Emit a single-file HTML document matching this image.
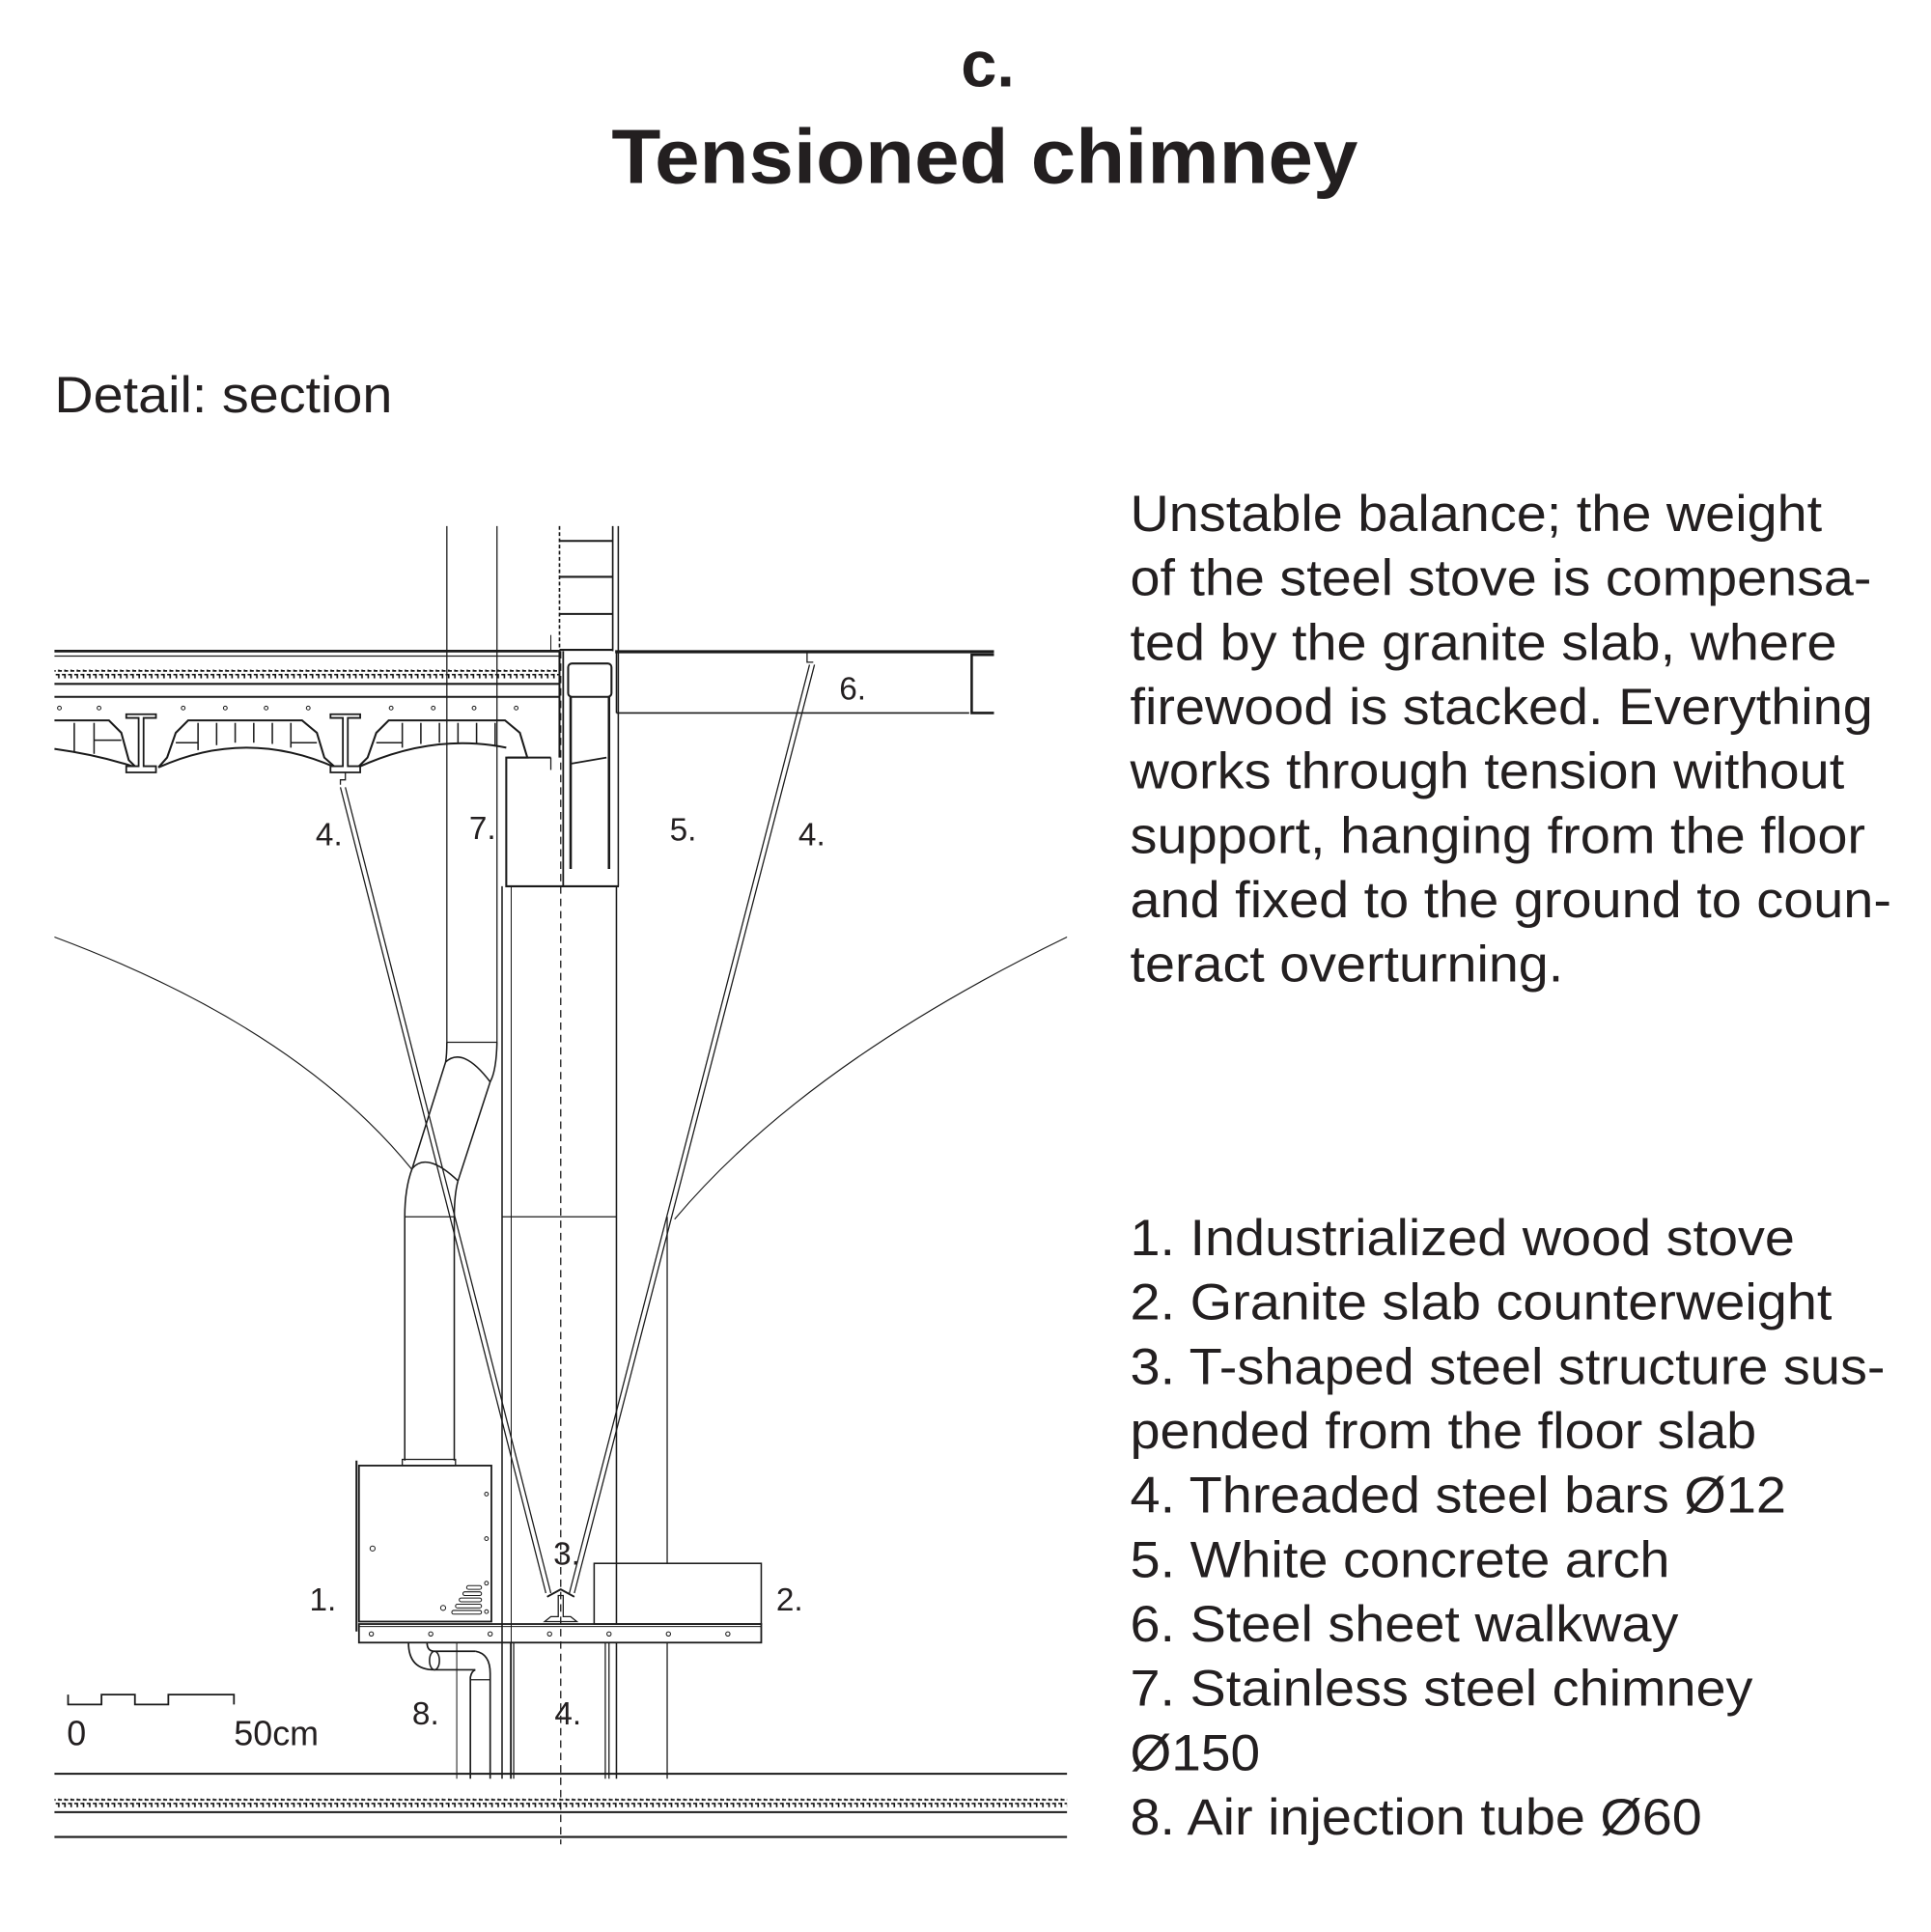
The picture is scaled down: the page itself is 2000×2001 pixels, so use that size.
<!DOCTYPE html>
<html><head><meta charset="utf-8"><style>
html,body{margin:0;padding:0;background:#fff;}
svg{display:block;}
text{font-family:"Liberation Sans",Arial,sans-serif;fill:#231f20;}
</style></head><body>
<svg width="2000" height="2001" viewBox="0 0 1560 1560.8" preserveAspectRatio="none" xmlns="http://www.w3.org/2000/svg">
<defs>
<pattern id="sq" x="0" y="0" width="5" height="8" patternUnits="userSpaceOnUse">
<path d="M0 1 H2.5 V6 H5" fill="none" stroke="#111" stroke-width="1.3"/>
</pattern>
</defs>
<rect width="1560" height="1561" fill="#fff"/>
<text x="798" y="70" font-size="52" font-weight="bold" text-anchor="middle">c.</text>
<text x="494" y="148" font-size="62" font-weight="bold" textLength="603" lengthAdjust="spacingAndGlyphs">Tensioned chimney</text>
<text x="44" y="333" font-size="41" textLength="273" lengthAdjust="spacingAndGlyphs">Detail: section</text>

<g font-size="41">
<text x="913" y="429" textLength="559" lengthAdjust="spacingAndGlyphs">Unstable balance; the weight</text>
<text x="913" y="481" textLength="599" lengthAdjust="spacingAndGlyphs">of the steel stove is compensa-</text>
<text x="913" y="533" textLength="571" lengthAdjust="spacingAndGlyphs">ted by the granite slab, where</text>
<text x="913" y="585" textLength="600" lengthAdjust="spacingAndGlyphs">firewood is stacked. Everything</text>
<text x="913" y="637" textLength="577" lengthAdjust="spacingAndGlyphs">works through tension without</text>
<text x="913" y="689" textLength="594" lengthAdjust="spacingAndGlyphs">support, hanging from the floor</text>
<text x="913" y="741" textLength="615" lengthAdjust="spacingAndGlyphs">and fixed to the ground to coun-</text>
<text x="913" y="793" textLength="350" lengthAdjust="spacingAndGlyphs">teract overturning.</text>

<text x="913" y="1014" textLength="537" lengthAdjust="spacingAndGlyphs">1. Industrialized wood stove</text>
<text x="913" y="1066" textLength="567" lengthAdjust="spacingAndGlyphs">2. Granite slab counterweight</text>
<text x="913" y="1118" textLength="610" lengthAdjust="spacingAndGlyphs">3. T-shaped steel structure sus-</text>
<text x="913" y="1170" textLength="506" lengthAdjust="spacingAndGlyphs">pended from the floor slab</text>
<text x="913" y="1222" textLength="530" lengthAdjust="spacingAndGlyphs">4. Threaded steel bars Ø12</text>
<text x="913" y="1274" textLength="436" lengthAdjust="spacingAndGlyphs">5. White concrete arch</text>
<text x="913" y="1326" textLength="443" lengthAdjust="spacingAndGlyphs">6. Steel sheet walkway</text>
<text x="913" y="1378" textLength="503" lengthAdjust="spacingAndGlyphs">7. Stainless steel chimney</text>
<text x="913" y="1430" textLength="105" lengthAdjust="spacingAndGlyphs">Ø150</text>
<text x="913" y="1482" textLength="462" lengthAdjust="spacingAndGlyphs">8. Air injection tube Ø60</text>
</g>

<g fill="none" stroke="#1a1a1a" stroke-width="1">
<path d="M44 757 Q240 830 333 945" stroke-width="0.9"/>
<path d="M862 757 Q650 860 545 985" stroke-width="0.9"/>

<line x1="44" y1="526" x2="452" y2="526" stroke-width="2.2"/>
<line x1="44" y1="530" x2="452" y2="530" stroke-width="1"/>
<rect x="44" y="541" width="408" height="7" fill="url(#sq)" stroke="none"/>
<line x1="44" y1="552.5" x2="452" y2="552.5" stroke-width="1.6"/>
<line x1="44" y1="563" x2="452" y2="563" stroke-width="1.6"/>
<line x1="452" y1="526" x2="452" y2="612" stroke-width="1.6"/>
<path d="M445 612 H409 V716 H500" stroke-width="1.6"/>
<line x1="445" y1="612" x2="445" y2="622" stroke-width="1"/>
<g fill="#fff" stroke-width="0.8">
<circle cx="48" cy="572" r="1.5"/><circle cx="80" cy="572" r="1.5"/><circle cx="148" cy="572" r="1.5"/><circle cx="182" cy="572" r="1.5"/><circle cx="215" cy="572" r="1.5"/><circle cx="249" cy="572" r="1.5"/><circle cx="316" cy="572" r="1.5"/><circle cx="350" cy="572" r="1.5"/><circle cx="383" cy="572" r="1.5"/><circle cx="417" cy="572" r="1.5"/>
</g>
<g stroke-width="1.6">
<path d="M44 582 H88 L98 592 L104 614 L110 620"/>
<path d="M44 605 Q80 610 110 620"/>
<path d="M128 620 L135 612 L142 592 L152 582 H244 L256 592 L262 612 L271 620"/>
<path d="M128 620 Q199 588 271 620"/>
<path d="M289 620 L297 612 L304 592 L314 582 H408 L420 592 L426 612 L410 612"/>
<path d="M289 620 Q350 592 409 604"/>
</g>
<g stroke-width="1.2">
<line x1="60" y1="584" x2="60" y2="607"/><line x1="76" y1="584" x2="76" y2="609"/><line x1="76" y1="598" x2="98" y2="598"/>
<line x1="160" y1="584" x2="160" y2="606"/><line x1="175" y1="584" x2="175" y2="602"/><line x1="190" y1="584" x2="190" y2="600"/><line x1="205" y1="584" x2="205" y2="600"/><line x1="220" y1="584" x2="220" y2="601"/><line x1="235" y1="584" x2="235" y2="604"/><line x1="142" y1="600" x2="160" y2="600"/><line x1="235" y1="600" x2="256" y2="600"/>
<line x1="325" y1="584" x2="325" y2="604"/><line x1="340" y1="584" x2="340" y2="601"/><line x1="355" y1="584" x2="355" y2="600"/><line x1="370" y1="584" x2="370" y2="600"/><line x1="385" y1="584" x2="385" y2="601"/><line x1="400" y1="584" x2="400" y2="603"/><line x1="304" y1="600" x2="325" y2="600"/>
</g>
<g stroke-width="1.4" fill="#fff">
<path d="M102 577 H126 V580 H116 V619 H126 V624 H102 V619 H112 V580 H102 Z"/>
<path d="M267 577 H291 V580 H281 V619 H291 V624 H267 V619 H277 V580 H267 Z"/>
</g>
<path d="M279 624 V630 H275 V634" stroke-width="1"/>

<line x1="361" y1="425" x2="361" y2="842"/>
<line x1="401.5" y1="425" x2="401.5" y2="842"/>
<path d="M361 842 H401.5" />
<path d="M361 842 Q361 852 360 858 L333 944" stroke-width="1.2"/>
<path d="M401.5 842 Q401 865 396 874 L370 954" stroke-width="1.2"/>
<path d="M360 858 Q374 845 396 874" stroke-width="1.2"/>
<path d="M333 944 Q345 930 370 954" stroke-width="1.2"/>
<path d="M333 944 Q327 960 327 983 V1180" stroke-width="1.2"/>
<path d="M370 954 Q367 965 367 983 V1180" stroke-width="1.2"/>
<line x1="327" y1="983" x2="367" y2="983"/>
<rect x="325" y="1179" width="43" height="5" stroke-width="1"/>

<line x1="452" y1="425" x2="452" y2="526" stroke-dasharray="3 2" stroke-width="1.3"/>
<line x1="495" y1="425" x2="495" y2="526" stroke-width="1.3"/>
<line x1="499.5" y1="425" x2="499.5" y2="716" stroke-width="1.2"/>
<g stroke-width="1.6"><line x1="452" y1="437" x2="495" y2="437"/><line x1="452" y1="466" x2="495" y2="466"/><line x1="452" y1="496" x2="495" y2="496"/><line x1="452" y1="525" x2="495" y2="525"/></g>
<line x1="445" y1="513" x2="445" y2="526" stroke-width="0.8"/>
<line x1="455" y1="526" x2="455" y2="716" stroke-width="1.4"/>
<rect x="459" y="536" width="35" height="27" rx="3" stroke-width="1.6"/>
<line x1="461" y1="563" x2="461" y2="702" stroke-width="2"/>
<line x1="492" y1="563" x2="492" y2="702" stroke-width="2"/>
<line x1="461" y1="617" x2="490" y2="612" stroke-width="1.4"/>

<line x1="497" y1="526.5" x2="803" y2="526.5" stroke-width="2.6"/>
<line x1="498" y1="526" x2="498" y2="576" stroke-width="1.2"/>
<line x1="498" y1="576" x2="783" y2="576" stroke-width="1.2"/>
<path d="M803 529 H785 V576 H803" stroke-width="2"/>
<path d="M652 527 V535 H657" stroke-width="1"/>

<line x1="405.6" y1="716" x2="405.6" y2="1437" stroke-width="1.2"/>
<line x1="498" y1="716" x2="498" y2="1312" stroke-width="1.2"/>
<line x1="498" y1="1327" x2="498" y2="1437" stroke-width="1.2"/>
<line x1="405.6" y1="983" x2="498" y2="983" stroke-width="1"/>
<line x1="539" y1="983" x2="539" y2="1263" stroke-width="1"/>
<line x1="539" y1="1327" x2="539" y2="1437" stroke-width="1"/>
<line x1="413" y1="716" x2="413" y2="1437" stroke-width="0.8"/>

<line x1="453" y1="526" x2="453" y2="1490" stroke-dasharray="6 4" stroke-width="1"/>

<g stroke-width="1">
<line x1="275" y1="636" x2="441" y2="1287"/><line x1="279" y1="636" x2="445" y2="1287"/>
<line x1="654" y1="537" x2="460" y2="1287"/><line x1="658" y1="537" x2="464" y2="1287"/>
</g>

<rect x="290" y="1184" width="107" height="126" stroke-width="1.4"/>
<line x1="288" y1="1180" x2="288" y2="1318" stroke-width="1.6"/>
<g stroke-width="0.8">
<circle cx="301" cy="1251" r="2"/><circle cx="393" cy="1207" r="1.5"/><circle cx="393" cy="1243" r="1.5"/><circle cx="393" cy="1279" r="1.5"/><circle cx="393" cy="1302" r="1.5"/><circle cx="358" cy="1299" r="2"/>
<rect x="365" y="1301" width="24" height="3" rx="1.5"/><rect x="368" y="1296" width="21" height="3" rx="1.5"/><rect x="371" y="1291" width="18" height="3" rx="1.5"/><rect x="374" y="1286" width="15" height="3" rx="1.5"/><rect x="377" y="1281" width="12" height="3" rx="1.5"/>
</g>
<rect x="480" y="1263" width="135" height="49" stroke-width="1.2"/>
<path d="M440 1310 L445 1306 H451 V1289 H455 V1306 H461 L466 1310 Z" stroke-width="1"/>
<path d="M442 1290 L453 1284 L464 1290" stroke-width="1.5"/>
<rect x="290" y="1312" width="325" height="15" stroke-width="1.4"/>
<line x1="290" y1="1314" x2="615" y2="1314" stroke-width="0.8"/>
<g stroke-width="0.8"><circle cx="300" cy="1320" r="1.7"/><circle cx="348" cy="1320" r="1.7"/><circle cx="396" cy="1320" r="1.7"/><circle cx="444" cy="1320" r="1.7"/><circle cx="492" cy="1320" r="1.7"/><circle cx="540" cy="1320" r="1.7"/><circle cx="588" cy="1320" r="1.7"/></g>
<line x1="412.5" y1="1327" x2="412.5" y2="1437" stroke-width="1"/><line x1="415" y1="1327" x2="415" y2="1437" stroke-width="1"/>
<line x1="489" y1="1327" x2="489" y2="1437" stroke-width="1"/><line x1="492" y1="1327" x2="492" y2="1437" stroke-width="1"/>
<line x1="369" y1="1327" x2="369" y2="1437" stroke-width="0.8"/>
<path d="M330 1327 Q330 1349 351 1349 H384" stroke-width="1.3"/>
<path d="M345 1327 Q345 1334 351 1334 H384" stroke-width="1.3"/>
<ellipse cx="351" cy="1341.5" rx="4" ry="7.5" stroke-width="1.2"/>
<path d="M384 1334 Q396 1336 396 1352 V1437" stroke-width="1.3"/>
<path d="M384 1349 Q381 1350 380 1355 V1437" stroke-width="1.3"/>
<line x1="380" y1="1357" x2="396" y2="1357"/>

<line x1="44" y1="1433" x2="862" y2="1433" stroke-width="1.6"/>
<rect x="44" y="1453" width="818" height="7" fill="url(#sq)" stroke="none"/>
<line x1="44" y1="1464" x2="862" y2="1464" stroke-width="1.6"/>
<line x1="44" y1="1484" x2="862" y2="1484" stroke-width="1.6"/>

<path d="M55 1369 V1377 H82 V1369 H109 V1377 H136 V1369 H189 V1377" stroke-width="1.4"/>
</g>

<g font-size="26">
<text x="255" y="683">4.</text>
<text x="379" y="678">7.</text>
<text x="541" y="679">5.</text>
<text x="645" y="683">4.</text>
<text x="678" y="565">6.</text>
<text x="250" y="1301">1.</text>
<text x="627" y="1301">2.</text>
<text x="447" y="1264">3.</text>
<text x="333" y="1393">8.</text>
<text x="448" y="1393">4.</text>
</g>
<g font-size="28">
<text x="54" y="1410">0</text>
<text x="189" y="1410">50cm</text>
</g>
</svg>
</body></html>
